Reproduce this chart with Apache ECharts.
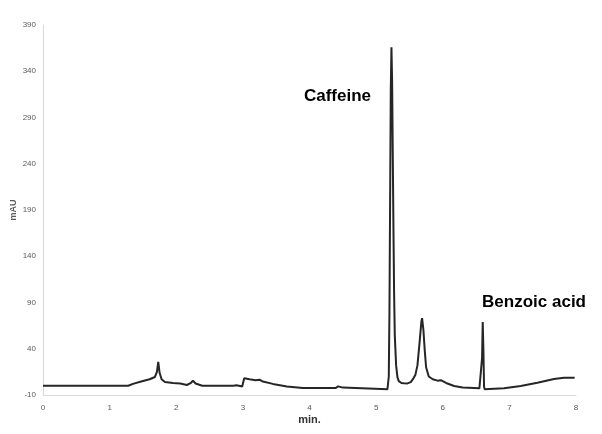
<!DOCTYPE html>
<html>
<head>
<meta charset="utf-8">
<script src="https://cdn.jsdelivr.net/npm/echarts@6/dist/echarts.min.js"></script>
<style>html,body{margin:0;padding:0;background:#fff}#c{width:602px;height:434px}</style>
</head>
<body>
<div id="c"></div>
<script>
// retention time (min)
var times = [0, 1.28, 1.35, 1.46, 1.6, 1.68, 1.71, 1.73, 1.75, 1.78, 1.83, 1.95, 2.06, 2.16, 2.22, 2.25, 2.29, 2.39, 2.86, 2.9, 2.94, 2.99, 3.02, 3.1, 3.19, 3.25, 3.3, 3.45, 3.66, 3.9, 4.39, 4.43, 4.5, 5.17,
  5.19, 5.2, 5.21, 5.22, 5.23, 5.24, 5.25, 5.26, 5.27, 5.28, 5.3, 5.32, 5.34, 5.38, 5.42, 5.47, 5.52, 5.56, 5.59, 5.62, 5.65, 5.68, 5.69, 5.71, 5.73, 5.75, 5.79, 5.85, 5.92, 5.97, 6.05, 6.17, 6.3, 6.55,
  6.58, 6.59, 6.6, 6.61, 6.62, 6.63, 6.7, 6.92, 7.17, 7.42, 7.67, 7.82, 7.98];
// absorbance (mAU)
var signal = [0, 0, 2, 4.4, 7, 9.5, 15, 25.7, 14, 7, 4, 3, 2.5, 0.8, 3, 5.5, 2.5, 0, 0, 0.6, 0, -0.9, 8, 7, 6, 6.5, 4.5, 2, -0.9, -2.5, -2.5, -0.7, -2, -3.8,
  10, 80, 200, 320, 366, 330, 250, 170, 100, 55, 22, 9, 5, 3, 2.6, 2.5, 4, 8, 12, 22, 45, 70, 73, 60, 38, 20, 10, 7, 5.5, 6, 3, -0.3, -2, -2.8,
  -3, 30, 69, 40, -1, -3.9, -3.5, -2.8, -0.3, 3.3, 7.3, 8.7, 8.7];
var yTicks = [-10, 40, 90, 140, 190, 240, 290, 340, 390];
var xTicks = [0, 1, 2, 3, 4, 5, 6, 7, 8];
var peakNames = ['Caffeine', 'Benzoic acid'];
var peakLabelAt = [[4.42, 313], [7.37, 90.5]];

var data = times.map(function (t, i) { return [t, signal[i]]; });
var chart = echarts.init(document.getElementById('c'), null, {renderer: 'canvas'});
chart.setOption({
  animation: false,
  backgroundColor: '#ffffff',
  grid: {left: 43, right: 26, top: 25, bottom: 39, containLabel: false, outerBoundsMode: 'none'},
  xAxis: {
    type: 'value', min: 0, max: 8, interval: 1,
    name: 'min.', nameLocation: 'middle', nameGap: 19, nameMoveOverlap: false,
    nameTextStyle: {fontFamily: 'Liberation Sans', fontSize: 11, fontWeight: 'bold', color: '#333'},
    axisLine: {show: true, onZero: false, lineStyle: {color: '#d9d9d9', width: 1}},
    axisTick: {show: false},
    splitLine: {show: false},
    axisLabel: {fontFamily: 'Liberation Sans', fontSize: 8, color: '#595959', margin: 9,
      customValues: xTicks}
  },
  yAxis: {
    type: 'value', min: -10, max: 390,
    name: 'mAU', nameLocation: 'middle', nameGap: 25, nameRotate: 90, nameMoveOverlap: false,
    nameTextStyle: {fontFamily: 'Liberation Sans', fontSize: 9, fontWeight: 'bold', color: '#595959'},
    axisLine: {show: true, onZero: false, lineStyle: {color: '#d9d9d9', width: 1}},
    axisTick: {show: false},
    splitLine: {show: false},
    axisLabel: {fontFamily: 'Liberation Sans', fontSize: 8, color: '#595959', margin: 7,
      customValues: yTicks}
  },
  series: [{
    type: 'line',
    data: data,
    symbol: 'none',
    smooth: false,
    lineStyle: {color: '#262626', width: 2},
    markPoint: {
      symbol: 'circle', symbolSize: 0,
      label: {show: true, position: 'inside', formatter: '{b}', fontFamily: 'Liberation Sans',
        fontSize: 17, fontWeight: 'bold', color: '#000'},
      data: peakNames.map(function (n, i) { return {name: n, coord: peakLabelAt[i]}; })
    }
  }]
});
</script>
</body>
</html>
